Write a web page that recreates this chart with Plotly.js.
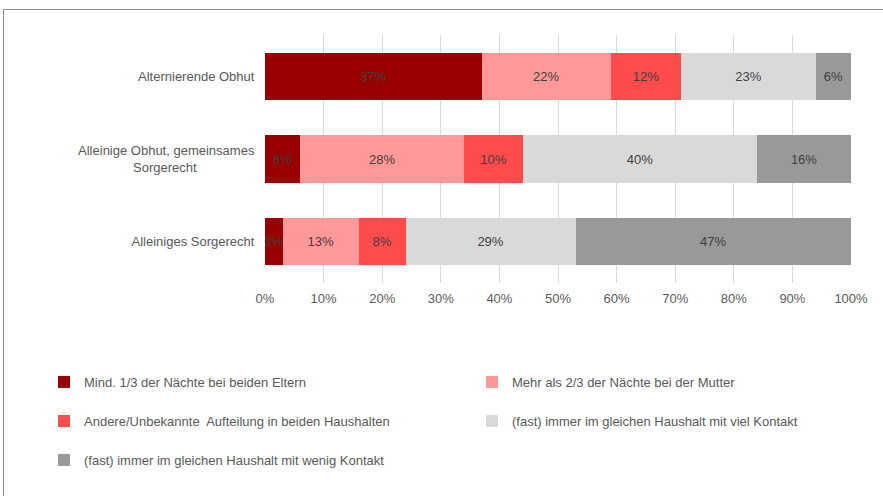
<!DOCTYPE html>
<html>
<head>
<meta charset="utf-8">
<script src="https://cdn.plot.ly/plotly-3.0.1.min.js"></script>
<style>html,body{margin:0;padding:0;background:#fff;}#chart{width:883px;height:496px;}</style>
</head>
<body>
<div id="chart"></div>
<script>
const categories = [
  "Alternierende Obhut",
  "Alleinige Obhut, gemeinsames<br>Sorgerecht\u00a0\u00a0\u00a0\u00a0\u00a0\u00a0\u00a0\u00a0\u00a0\u00a0\u00a0\u00a0\u00a0\u00a0\u00a0\u00a0",
  "Alleiniges Sorgerecht"
];
const seriesNames = [
  "Mind. 1/3 der Nächte bei beiden Eltern",
  "Mehr als 2/3 der Nächte bei der Mutter",
  "Andere/Unbekannte  Aufteilung in beiden Haushalten",
  "(fast) immer im gleichen Haushalt mit viel Kontakt",
  "(fast) immer im gleichen Haushalt mit wenig Kontakt"
];
const beideEltern = [37, 6, 3];
const mutter = [22, 28, 13];
const andere = [12, 10, 8];
const vielKontakt = [23, 40, 29];
const wenigKontakt = [6, 16, 47];
const seriesValues = [beideEltern, mutter, andere, vielKontakt, wenigKontakt];
const colors = ["#990000", "#FF9999", "#FF4B4B", "#D9D9D9", "#999999"];
const tickVals = [0,10,20,30,40,50,60,70,80,90,100];
const tickText = ["0%","10%","20%","30%","40%","50%","60%","70%","80%","90%","100%"];

const FONT = "Liberation Sans, Arial, sans-serif";
const legendIds = ["legend","legend2","legend3","legend4","legend5"];

const traces = seriesValues.map((vals, i) => ({
  type: "bar",
  orientation: "h",
  name: seriesNames[i],
  y: categories,
  x: vals,
  marker: {color: colors[i], line: {width: 0}},
  text: vals.map(v => v + "%"),
  textposition: "inside",
  insidetextanchor: "middle",
  constraintext: "none",
  textangle: 0,
  textfont: {family: FONT, size: 13, color: "#404040"},
  insidetextfont: {family: FONT, size: 13, color: "#404040"},
  hoverinfo: "skip",
  legend: legendIds[i]
}));

// plot area: x 265..851, y 35..283
const px = v => (v - 265) / 586;
const py = v => (283 - v) / 248;
const legendPos = [[44, 382], [472, 382], [44, 421], [472, 421], [44, 460]];
const layout = {
  width: 883, height: 496,
  margin: {l: 265, r: 32, t: 35, b: 213, pad: 0},
  paper_bgcolor: "#ffffff",
  plot_bgcolor: "#ffffff",
  barmode: "stack",
  bargap: 0.43,
  font: {family: FONT, size: 13, color: "#595959"},
  showlegend: true,
  xaxis: {
    range: [0, 100],
    tickvals: tickVals,
    ticktext: tickText,
    showgrid: true,
    gridcolor: "#D9D9D9",
    gridwidth: 1,
    zeroline: false,
    showline: false,
    ticks: "outside",
    ticklen: 3,
    tickcolor: "rgba(0,0,0,0)",
    tickfont: {family: FONT, size: 13, color: "#595959"},
    fixedrange: true
  },
  yaxis: {
    autorange: "reversed",
    showgrid: false,
    zeroline: false,
    showline: false,
    ticks: "outside",
    ticklen: 7,
    tickcolor: "rgba(0,0,0,0)",
    tickfont: {family: FONT, size: 13, color: "#595959"},
    fixedrange: true
  },
  shapes: [
    {type: "line", xref: "paper", yref: "paper", x0: px(3.5), x1: px(890), y0: py(9.5), y1: py(9.5), line: {color: "#8c8c8c", width: 1}},
    {type: "line", xref: "paper", yref: "paper", x0: px(3.5), x1: px(3.5), y0: py(9.5), y1: py(500), line: {color: "#8c8c8c", width: 1}}
  ]
};
legendIds.forEach((id, i) => {
  layout[id] = {
    x: px(legendPos[i][0]), y: py(legendPos[i][1]),
    xanchor: "left", yanchor: "middle",
    orientation: "h",
    bgcolor: "rgba(0,0,0,0)",
    borderwidth: 0,
    font: {family: FONT, size: 13, color: "#595959"}
  };
});

Plotly.newPlot("chart", traces, layout, {displayModeBar: false, staticPlot: true});
</script>
</body>
</html>
